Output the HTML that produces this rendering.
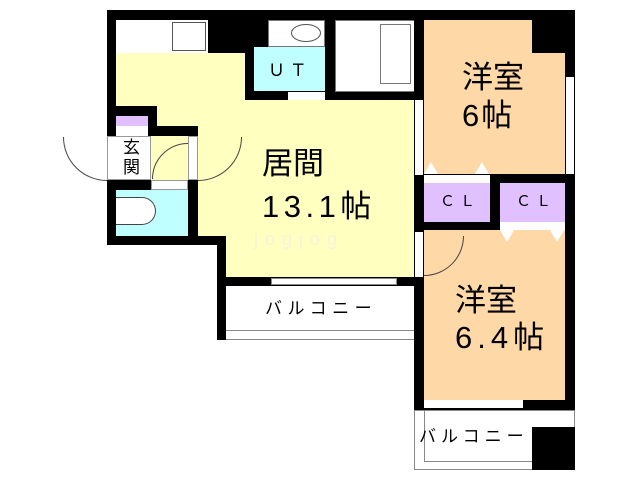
<!DOCTYPE html>
<html><head><meta charset="utf-8"><style>
body{margin:0;width:640px;height:480px;background:#fff;position:relative;overflow:hidden;font-family:"Liberation Sans","Noto Sans CJK JP",sans-serif}
div{position:absolute;box-sizing:border-box}
.k{background:#000}.w{background:#fff}.y{background:#ffffc0}.o{background:#ffd8a8}.c{background:#c0ffff}.p{background:#e0c0ff}
.t{color:#000;white-space:nowrap;line-height:1}
.tu{width:0;height:0;border-left:7px solid transparent;border-right:7px solid transparent;border-bottom:12px solid #fff}
.td{width:0;height:0;border-left:7px solid transparent;border-right:7px solid transparent;border-top:12px solid #fff}
</style></head><body>
<div class="y" style="left:107px;top:10px;width:310px;height:275px"></div>
<div class="k" style="left:107px;top:10px;width:468px;height:10px"></div>
<div class="k" style="left:107px;top:10px;width:9px;height:100px"></div>
<div class="w" style="left:116px;top:20px;width:92px;height:33px"></div>
<div style="left:172px;top:22px;width:34px;height:29px;border:1px solid #555"></div>
<div class="k" style="left:208px;top:10px;width:45px;height:43px"></div>
<div class="k" style="left:245px;top:10px;width:178px;height:90px"></div>
<div class="w" style="left:268px;top:20px;width:57px;height:27px;border:1px solid #777"></div>
<div style="left:291px;top:24px;width:30px;height:18px;border:1px solid #555;border-radius:50%"></div>
<div class="c" style="left:254px;top:47px;width:71px;height:44px"></div>
<div class="t" style="left:268px;top:62px;font-size:17px">Ｕ Ｔ</div>
<div class="w" style="left:288px;top:92px;width:37px;height:8px"></div>
<div class="w" style="left:335px;top:20px;width:80px;height:72px;border:1px solid #777"></div>
<div style="left:380px;top:24px;width:31px;height:60px;border:1px solid #777"></div>
<div class="k" style="left:414px;top:10px;width:161px;height:400px"></div>
<div class="o" style="left:424px;top:20px;width:141px;height:154px"></div>
<div class="k" style="left:532px;top:10px;width:43px;height:43px"></div>
<div class="w" style="left:566px;top:77px;width:8px;height:97px"></div>
<div class="w" style="left:415px;top:100px;width:8px;height:75px"></div>
<div class="w" style="left:424px;top:175px;width:66px;height:8px"></div>
<div class="tu" style="left:424px;top:162px"></div>
<div class="tu" style="left:475px;top:162px"></div>
<div class="p" style="left:424px;top:183px;width:66px;height:39px"></div>
<div class="p" style="left:500px;top:183px;width:65px;height:39px"></div>
<div class="w" style="left:500px;top:222px;width:65px;height:8px"></div>
<div class="td" style="left:500px;top:230px"></div>
<div class="td" style="left:550px;top:230px"></div>
<div class="t" style="left:440px;top:194px;font-size:15px;letter-spacing:5px">ＣＬ</div>
<div class="t" style="left:516px;top:194px;font-size:15px;letter-spacing:5px">ＣＬ</div>
<div class="o" style="left:424px;top:230px;width:141px;height:170px"></div>
<div class="td" style="left:500px;top:230px"></div>
<div class="td" style="left:550px;top:230px"></div>
<div class="w" style="left:415px;top:232px;width:8px;height:45px"></div>
<div style="left:384px;top:196px;width:80px;height:80px;border:1px solid #444;border-radius:50%;clip-path:inset(40px 0 0 40px)"></div>
<div class="w" style="left:424px;top:400px;width:99px;height:8px"></div>
<div class="w" style="left:414px;top:410px;width:161px;height:60px;border:1px solid #888"></div>
<div style="left:424px;top:410px;width:108px;height:52px;border-left:1px solid #888;border-bottom:1px solid #888"></div>
<div class="k" style="left:532px;top:427px;width:43px;height:43px"></div>
<div class="t" style="left:419px;top:428px;font-size:17px;letter-spacing:5px">バルコニー</div>
<div class="w" style="left:107px;top:245px;width:110px;height:60px"></div>
<div class="k" style="left:217px;top:236px;width:9px;height:104px"></div>
<div class="k" style="left:217px;top:277px;width:197px;height:9px"></div>
<div class="w" style="left:271px;top:278px;width:126px;height:7px;border:1px solid #888"></div>
<div class="w" style="left:226px;top:286px;width:188px;height:54px"></div>
<div style="left:226px;top:330px;width:188px;height:10px;border-top:1px solid #888;border-bottom:1px solid #888"></div>
<div class="t" style="left:265px;top:300px;font-size:17px;letter-spacing:5.5px">バルコニー</div>
<div class="k" style="left:107px;top:106px;width:50px;height:30px"></div>
<div class="p" style="left:116px;top:116px;width:32px;height:10px"></div>
<div class="w" style="left:116px;top:126px;width:32px;height:10px"></div>
<div class="k" style="left:148px;top:126px;width:50px;height:10px"></div>
<div class="w" style="left:107px;top:136px;width:44px;height:44px;border:1px solid #999"></div>
<div class="w" style="left:188px;top:136px;width:10px;height:44px;border:1px solid #999"></div>
<div style="left:63px;top:93px;width:88px;height:88px;border:1px solid #444;border-radius:50%;clip-path:inset(44px 44px 0 0)"></div>
<div style="left:154px;top:93px;width:88px;height:88px;border:1px solid #444;border-radius:50%;clip-path:inset(44px 0 0 44px)"></div>
<div style="left:152px;top:143px;width:72px;height:72px;border:1px solid #444;border-radius:50%;clip-path:inset(0 36px 36px 0)"></div>
<div class="t" style="left:123px;top:138px;font-size:17px;line-height:20px">玄<br>関</div>
<div class="k" style="left:107px;top:180px;width:44px;height:10px"></div>
<div class="w" style="left:151px;top:180px;width:37px;height:10px;border:1px solid #999"></div>
<div class="k" style="left:188px;top:180px;width:10px;height:65px"></div>
<div class="k" style="left:107px;top:180px;width:9px;height:65px"></div>
<div class="c" style="left:116px;top:190px;width:72px;height:46px"></div>
<div class="w" style="left:116px;top:197px;width:40px;height:28px;border:1px solid #444;border-left:none;border-radius:0 14px 14px 0"></div>
<div class="k" style="left:107px;top:236px;width:119px;height:9px"></div>
<div class="t" style="left:262px;top:148px;font-size:31px">居間</div>
<div class="t" style="left:262px;top:191px;font-size:31px;letter-spacing:4.5px">13.1帖</div>
<div class="t" style="left:254px;top:230px;font-size:18px;color:#f4f4dc;letter-spacing:7px">jogjog</div>
<div class="t" style="left:462px;top:62px;font-size:31px">洋室</div>
<div class="t" style="left:462px;top:100px;font-size:31px;letter-spacing:2px">6帖</div>
<div class="t" style="left:455px;top:285px;font-size:31px">洋室</div>
<div class="t" style="left:455px;top:322px;font-size:31px;letter-spacing:5px">6.4帖</div>
</body></html>
